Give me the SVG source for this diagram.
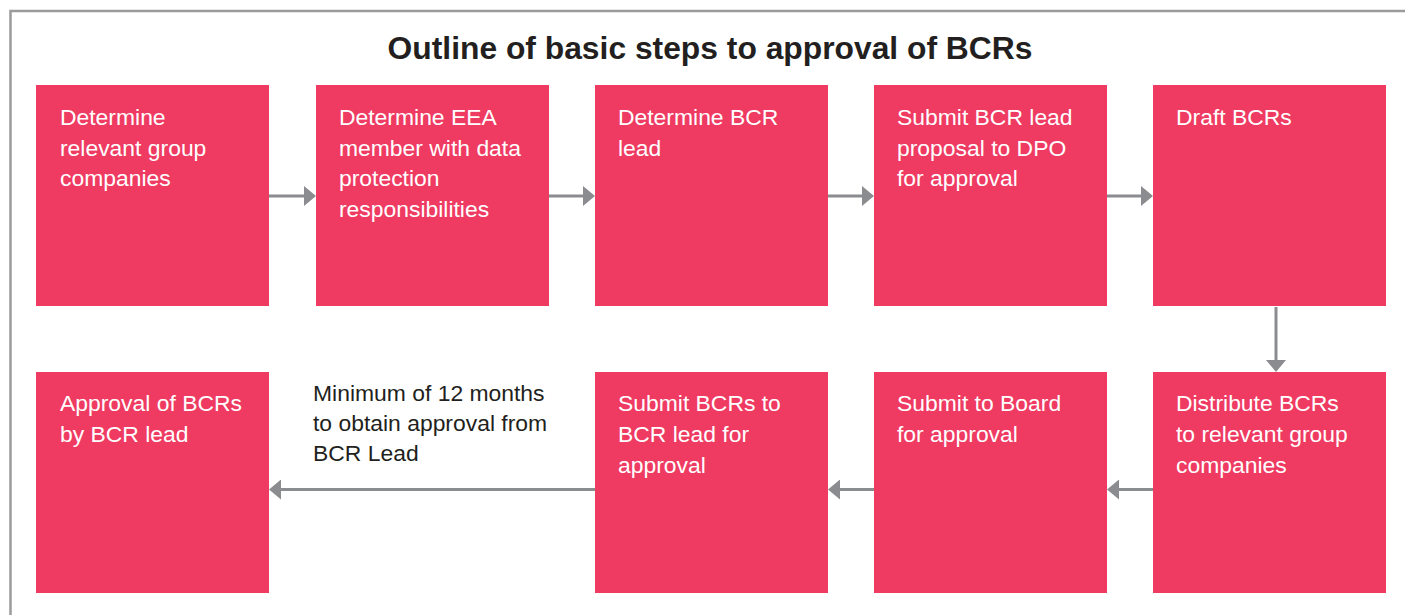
<svg xmlns="http://www.w3.org/2000/svg" width="1405" height="615" viewBox="0 0 1405 615">
  <style>
    .box { fill: #ef3a62; }
    .lbl { font-family: "Liberation Sans", Arial, sans-serif; font-size: 22.9px; fill: #ffffff; }
    .note { font-family: "Liberation Sans", Arial, sans-serif; font-size: 22.9px; fill: #231f20; }
    .title { font-family: "Liberation Sans", Arial, sans-serif; font-size: 31.8px; font-weight: bold; fill: #231f20; }
    .conn { stroke: #8b8c8f; stroke-width: 3; fill: none; }
  </style>
  <defs>
    <marker id="head" markerUnits="userSpaceOnUse" markerWidth="12" markerHeight="20" refX="0" refY="10" orient="auto">
      <path d="M0,0 L12,10 L0,20 Z" fill="#8b8c8f"/>
    </marker>
  </defs>

  <rect width="1405" height="615" fill="#ffffff"/>
  <!-- outer frame, running off the right and bottom edges -->
  <rect x="10.5" y="11" width="1420" height="640" fill="none" stroke="#9b9b9b" stroke-width="2.5"/>

  <text class="title" x="710" y="59" text-anchor="middle">Outline of basic steps to approval of BCRs</text>

  <!-- top row -->
  <g id="step1">
    <rect class="box" x="36" y="85" width="233" height="221"/>
    <text class="lbl" x="60" y="125">Determine</text>
    <text class="lbl" x="60" y="155.7">relevant group</text>
    <text class="lbl" x="60" y="186.4">companies</text>
  </g>
  <g id="step2">
    <rect class="box" x="316" y="85" width="233" height="221"/>
    <text class="lbl" x="339" y="125">Determine EEA</text>
    <text class="lbl" x="339" y="155.7">member with data</text>
    <text class="lbl" x="339" y="186.4">protection</text>
    <text class="lbl" x="339" y="217.1">responsibilities</text>
  </g>
  <g id="step3">
    <rect class="box" x="595" y="85" width="233" height="221"/>
    <text class="lbl" x="618" y="125">Determine BCR</text>
    <text class="lbl" x="618" y="155.7">lead</text>
  </g>
  <g id="step4">
    <rect class="box" x="874" y="85" width="233" height="221"/>
    <text class="lbl" x="897" y="125">Submit BCR lead</text>
    <text class="lbl" x="897" y="155.7">proposal to DPO</text>
    <text class="lbl" x="897" y="186.4">for approval</text>
  </g>
  <g id="step5">
    <rect class="box" x="1153" y="85" width="233" height="221"/>
    <text class="lbl" x="1176" y="125">Draft BCRs</text>
  </g>

  <!-- bottom row -->
  <g id="step6">
    <rect class="box" x="1153" y="372" width="233" height="221"/>
    <text class="lbl" x="1176" y="411">Distribute BCRs</text>
    <text class="lbl" x="1176" y="442">to relevant group</text>
    <text class="lbl" x="1176" y="473">companies</text>
  </g>
  <g id="step7">
    <rect class="box" x="874" y="372" width="233" height="221"/>
    <text class="lbl" x="897" y="411">Submit to Board</text>
    <text class="lbl" x="897" y="442">for approval</text>
  </g>
  <g id="step8">
    <rect class="box" x="595" y="372" width="233" height="221"/>
    <text class="lbl" x="618" y="411">Submit BCRs to</text>
    <text class="lbl" x="618" y="442">BCR lead for</text>
    <text class="lbl" x="618" y="473">approval</text>
  </g>
  <g id="step9">
    <rect class="box" x="36" y="372" width="233" height="221"/>
    <text class="lbl" x="60" y="411">Approval of BCRs</text>
    <text class="lbl" x="60" y="442">by BCR lead</text>
  </g>

  <g id="note">
    <text class="note" x="313" y="401">Minimum of 12 months</text>
    <text class="note" x="313" y="431">to obtain approval from</text>
    <text class="note" x="313" y="461">BCR Lead</text>
  </g>

  <!-- connectors -->
  <g id="connectors">
    <line class="conn" x1="269" y1="196" x2="304" y2="196" marker-end="url(#head)"/>
    <line class="conn" x1="549" y1="196" x2="583" y2="196" marker-end="url(#head)"/>
    <line class="conn" x1="828" y1="196" x2="862" y2="196" marker-end="url(#head)"/>
    <line class="conn" x1="1107" y1="196" x2="1141" y2="196" marker-end="url(#head)"/>
    <line class="conn" x1="1276" y1="307" x2="1276" y2="360" marker-end="url(#head)"/>
    <line class="conn" x1="1153" y1="489.5" x2="1119" y2="489.5" marker-end="url(#head)"/>
    <line class="conn" x1="874" y1="489.5" x2="840" y2="489.5" marker-end="url(#head)"/>
    <line class="conn" x1="595" y1="489.5" x2="281" y2="489.5" marker-end="url(#head)"/>
  </g>
</svg>
